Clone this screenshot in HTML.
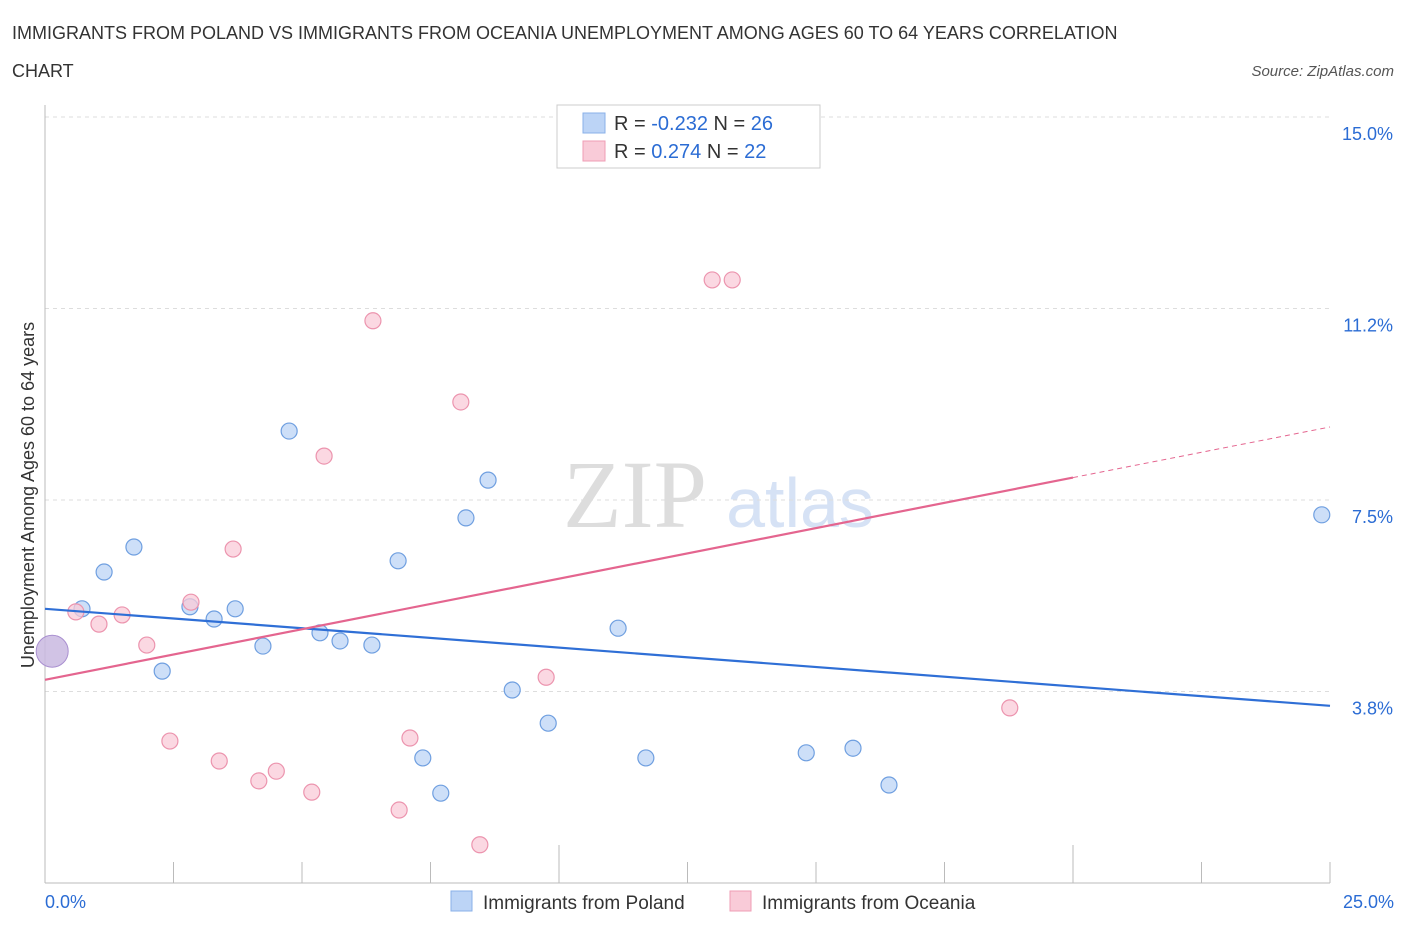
<!DOCTYPE html>
<html><head><meta charset="utf-8"><style>
body{margin:0;background:#fff;font-family:"Liberation Sans",sans-serif;}
</style></head><body>
<svg width="1406" height="930" xmlns="http://www.w3.org/2000/svg" font-family="Liberation Sans, sans-serif">
<text x="12" y="39" font-size="18" fill="#333">IMMIGRANTS FROM POLAND VS IMMIGRANTS FROM OCEANIA UNEMPLOYMENT AMONG AGES 60 TO 64 YEARS CORRELATION</text>
<text x="12" y="77" font-size="18" fill="#333">CHART</text>
<text x="1394" y="76" font-size="15" fill="#555" font-style="italic" text-anchor="end">Source: ZipAtlas.com</text>
<text x="635" y="527" font-size="96" fill="#ddd" font-family="Liberation Serif, serif" text-anchor="middle">ZIP</text>
<text x="800" y="527" font-size="70" fill="#d6e2f5" text-anchor="middle">atlas</text>
<g id="grid"></g>
<g id="axes"></g>
<g id="marks"></g>
<text transform="translate(34,495) rotate(-90)" font-size="18" fill="#333" text-anchor="middle">Unemployment Among Ages 60 to 64 years</text>
<g>
<rect x="557" y="105" width="263" height="63" fill="#fff" stroke="#ccc"/>
<rect x="583" y="113" width="22" height="20" fill="#bcd4f6" stroke="#8ab0e8"/>
<text x="614" y="130" font-size="20" fill="#333">R = <tspan fill="#2b6cd4">-0.232</tspan>   N = <tspan fill="#2b6cd4">26</tspan></text>
<rect x="583" y="141" width="22" height="20" fill="#f9cbd8" stroke="#ef9db5"/>
<text x="614" y="158" font-size="20" fill="#333">R =   <tspan fill="#2b6cd4">0.274</tspan>   N = <tspan fill="#2b6cd4">22</tspan></text>
</g>
<g>
<rect x="451" y="891" width="21" height="20" fill="#bcd4f6" stroke="#8ab0e8"/>
<text x="483" y="909" font-size="19" fill="#333">Immigrants from Poland</text>
<rect x="730" y="891" width="21" height="20" fill="#f9cbd8" stroke="#ef9db5"/>
<text x="762" y="909" font-size="19" fill="#333">Immigrants from Oceania</text>
</g>
</svg>
<script>
const yTicks=[3.75,7.5,11.25,15];
const yTickLabels=["3.8%","7.5%","11.2%","15.0%"];
const xTickLabels=["0.0%","25.0%"];
const polandX=[0.72,1.15,1.73,2.28,2.82,3.29,3.70,4.24,4.75,5.35,5.74,6.36,6.87,7.35,7.70,8.19,8.62,9.09,9.79,11.15,11.69,14.81,15.72,16.42,24.84];
const polandY=[5.37,6.09,6.58,4.15,5.41,5.17,5.37,4.64,8.85,4.90,4.74,4.66,6.31,2.45,1.76,7.15,7.89,3.78,3.13,4.99,2.45,2.55,2.64,1.92,7.21];
const oceaniaX=[0.60,1.05,1.50,1.98,2.43,2.84,3.39,3.66,4.16,4.50,5.19,5.43,6.38,6.89,7.10,8.09,8.46,9.75,12.98,13.37,18.77];
const oceaniaY=[5.31,5.07,5.25,4.66,2.78,5.50,2.39,6.54,2.00,2.19,1.78,8.36,11.01,1.43,2.84,9.42,0.75,4.03,11.81,11.81,3.43];
const bigPoint=[0.14,4.54];
const polandTrend=[5.37,3.47];
const oceaniaTrend=[3.98,8.93];
const oceaniaSolidEnd=20;
const X=v=>45+v*51.4, Y=v=>117+(15-v)*51.07;
const NS="http://www.w3.org/2000/svg";
function mk(parent,tag,attrs){const e=document.createElementNS(NS,tag);for(const k in attrs)e.setAttribute(k,attrs[k]);document.getElementById(parent).appendChild(e);return e;}
yTicks.forEach((t,i)=>{
 const l=mk('grid','line',{x1:45,x2:1330,y1:Y(t),y2:Y(t),stroke:'#ddd','stroke-dasharray':'4,4'});
 
 
 const tx=mk('grid','text',{x:1393,y:Y(t)+23,'font-size':18,fill:'#2b6cd4','text-anchor':'end'});
 tx.textContent=yTickLabels[i];
 
 
});
const ax=mk('axes','line',{x1:45,x2:45,y1:105,y2:883,stroke:'#bbb'});


const bx=mk('axes','line',{x1:45,x2:1330,y1:883,y2:883,stroke:'#bbb'});


for(let i=0;i<=10;i++){const v=i*2.5;const t=mk('axes','line',{x1:X(v),x2:X(v),y1:883,y2:i%4==0?845:862,stroke:'#bbb'});
 
 }
[[0,'start',45],[25,'end',1394]].forEach((a,i)=>{const t=mk('axes','text',{x:a[2],y:908,'font-size':18,fill:'#2b6cd4','text-anchor':a[1]});t.textContent=xTickLabels[i];
 
 });
polandX.forEach((x,i)=>{const c=mk('marks','circle',{cx:X(x),cy:Y(polandY[i]),r:8,fill:'#bcd4f6','fill-opacity':0.75,stroke:'#6f9fe0','stroke-width':1.2});
 
 });
oceaniaX.forEach((x,i)=>{const c=mk('marks','circle',{cx:X(x),cy:Y(oceaniaY[i]),r:8,fill:'#f9cbd8','fill-opacity':0.75,stroke:'#ec94ae','stroke-width':1.2});
 
 });
const bp=mk('marks','circle',{cx:X(bigPoint[0]),cy:Y(bigPoint[1]),r:16,fill:'#c9b8e0','fill-opacity':0.85,stroke:'#a98fd0'});


const pl=mk('marks','line',{x1:X(0),y1:Y(polandTrend[0]),x2:X(25),y2:Y(polandTrend[1]),stroke:'#2f6fd6','stroke-width':2.2});


const oy=v=>oceaniaTrend[0]+(oceaniaTrend[1]-oceaniaTrend[0])*v/25;
const ol=mk('marks','line',{x1:X(0),y1:Y(oy(0)),x2:X(oceaniaSolidEnd),y2:Y(oy(oceaniaSolidEnd)),stroke:'#e4658f','stroke-width':2.2});


const od=mk('marks','line',{x1:X(oceaniaSolidEnd),y1:Y(oy(oceaniaSolidEnd)),x2:X(25),y2:Y(oy(25)),stroke:'#e4658f','stroke-width':1,'stroke-dasharray':'5,4'});


</script>
</body></html>
